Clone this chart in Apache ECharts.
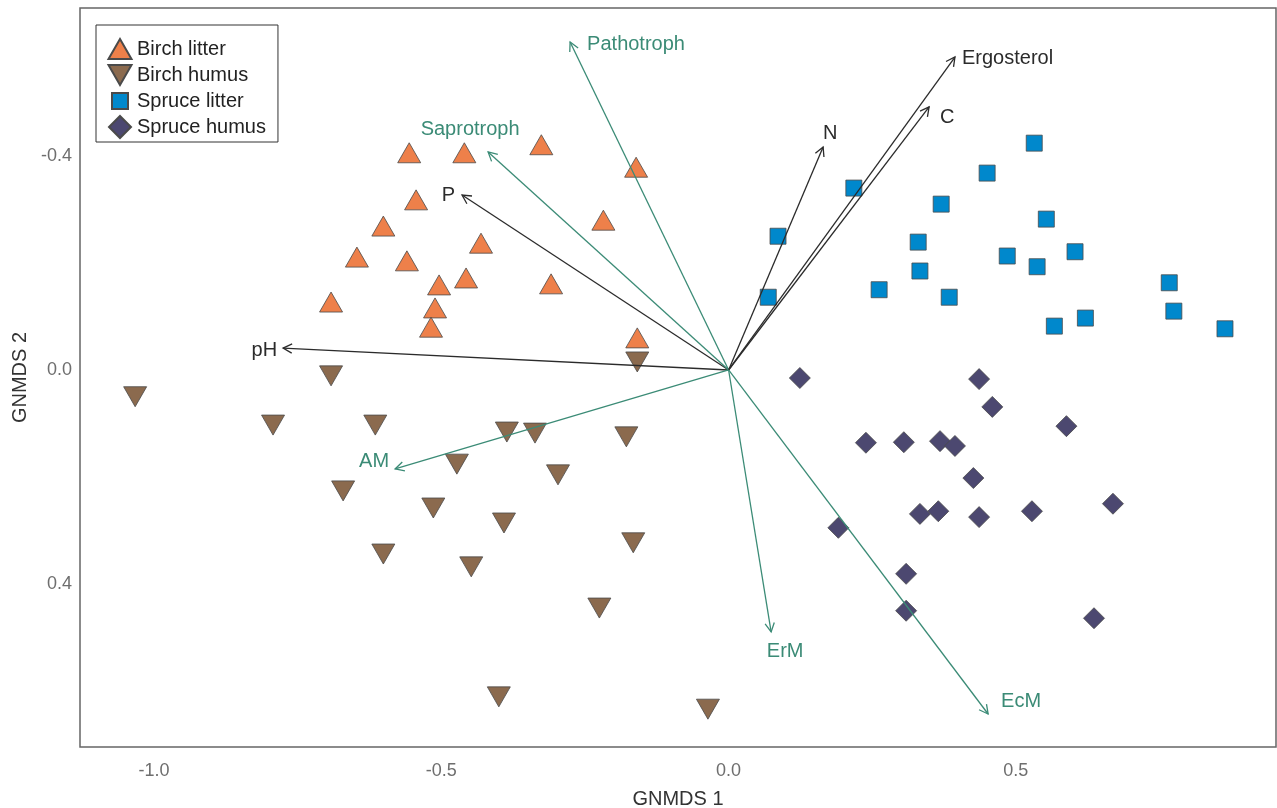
<!DOCTYPE html>
<html><head><meta charset="utf-8">
<script src="https://cdn.jsdelivr.net/npm/echarts@6/dist/echarts.min.js"></script>
<style>html,body{margin:0;padding:0;background:#fff}#c{width:1277px;height:808px}</style>
</head><body><div id="c"></div>
<script>
// ---------- data ----------
const birchLitterX = [-0.556,-0.460,-0.326,-0.161,-0.544,-0.218,-0.601,-0.431,-0.647,-0.560,-0.504,-0.457,-0.309,-0.692,-0.511,-0.518,-0.159];
const birchLitterY = [-0.406,-0.406,-0.421,-0.379,-0.318,-0.280,-0.269,-0.237,-0.211,-0.204,-0.159,-0.172,-0.161,-0.127,-0.116,-0.080,-0.060];

const birchHumusX = [-1.033,-0.692,-0.793,-0.615,-0.671,-0.514,-0.601,-0.473,-0.386,-0.337,-0.178,-0.297,-0.391,-0.166,-0.448,-0.225,-0.400,-0.036,-0.159];
const birchHumusY = [0.050,0.011,0.103,0.103,0.226,0.258,0.344,0.176,0.116,0.118,0.125,0.196,0.286,0.323,0.368,0.445,0.611,0.634,-0.015];

const spruceLitterX = [0.532,0.450,0.370,0.218,0.086,0.553,0.330,0.485,0.537,0.603,0.333,0.262,0.069,0.384,0.767,0.775,0.567,0.621,0.864];
const spruceLitterY = [-0.424,-0.368,-0.310,-0.340,-0.250,-0.282,-0.239,-0.213,-0.193,-0.221,-0.185,-0.150,-0.136,-0.136,-0.163,-0.110,-0.082,-0.097,-0.077];

const spruceHumusX = [0.124,0.436,0.459,0.588,0.239,0.305,0.368,0.394,0.426,0.669,0.333,0.365,0.436,0.528,0.191,0.309,0.309,0.636];
const spruceHumusY = [0.015,0.017,0.069,0.105,0.136,0.135,0.133,0.142,0.202,0.250,0.269,0.264,0.275,0.264,0.295,0.381,0.450,0.464];

const vectorNames = ['pH','P','Saprotroph','Pathotroph','N','C','Ergosterol','AM','ErM','EcM'];
const vectorX = [-0.7755,-0.464,-0.4186,-0.2759,0.1645,0.349,0.394,-0.5805,0.074,0.4517];
const vectorY = [-0.041,-0.327,-0.4075,-0.613,-0.4168,-0.4916,-0.585,0.185,0.4897,0.643];
const vectorGroup = ['env','env','fungal','fungal','env','env','env','fungal','fungal','fungal'];

const xTickValues = [-1.0,-0.5,0.0,0.5];
const yTickValues = [-0.4,0.0,0.4];

// ---------- styles ----------
const FONT = '"Liberation Sans", Arial, Helvetica, sans-serif';
const groupColor = {env:'#2b2b2b', fungal:'#3b8b76'};
const labelPlace = {
  pH:{align:'right',dx:-6,dy:2}, P:{align:'right',dx:-7,dy:0},
  Saprotroph:{align:'center',dx:-18,dy:-22}, Pathotroph:{align:'left',dx:17,dy:2},
  N:{align:'center',dx:7,dy:-14}, C:{align:'center',dx:18,dy:11},
  Ergosterol:{align:'left',dx:7,dy:1}, AM:{align:'right',dx:-6,dy:-7},
  ErM:{align:'center',dx:14,dy:20}, EcM:{align:'center',dx:33,dy:-13}
};
const zip = (xs, ys) => xs.map((x,i)=>[x, ys[i]]);
const markerBorder = {borderColor:'#4a4a4a', borderWidth:0.8};

const series = [
  {name:'Birch litter', type:'scatter', symbol:'triangle', symbolSize:[23,20],
   itemStyle:Object.assign({color:'#ee804a', opacity:1}, markerBorder), data:zip(birchLitterX,birchLitterY), z:2},
  {name:'Birch humus', type:'scatter', symbol:'path://M0,0 L23,0 L11.5,20 Z', symbolSize:[23,20],
   itemStyle:Object.assign({color:'#8b6a4e', opacity:1}, markerBorder), data:zip(birchHumusX,birchHumusY), z:2},
  {name:'Spruce litter', type:'scatter', symbol:'rect', symbolSize:[16,16],
   itemStyle:Object.assign({color:'#0088cc', opacity:1}, markerBorder), data:zip(spruceLitterX,spruceLitterY), z:2},
  {name:'Spruce humus', type:'scatter', symbol:'diamond', symbolSize:[21,21],
   itemStyle:Object.assign({color:'#4c4870', opacity:1}, markerBorder), data:zip(spruceHumusX,spruceHumusY), z:2},
  {name:'vectors', type:'custom', z:5, silent:true,
   data: vectorNames.map((n,i)=>[vectorX[i], vectorY[i], i]),
   renderItem: function(params, api){
     const i = api.value(2);
     const name = vectorNames[i];
     const col = groupColor[vectorGroup[i]];
     const o = api.coord([0,0]);
     const t = api.coord([api.value(0), api.value(1)]);
     const ang = Math.atan2(t[1]-o[1], t[0]-o[0]);
     const L = 10, a = Math.PI/6.5;
     const p1 = [t[0]-L*Math.cos(ang-a), t[1]-L*Math.sin(ang-a)];
     const p2 = [t[0]-L*Math.cos(ang+a), t[1]-L*Math.sin(ang+a)];
     const lp = labelPlace[name];
     return {type:'group', children:[
       {type:'line', shape:{x1:o[0],y1:o[1],x2:t[0],y2:t[1]}, style:{stroke:col, lineWidth:1.3}},
       {type:'polyline', shape:{points:[p1,t,p2]}, style:{stroke:col, lineWidth:1.3, fill:null}},
       {type:'text', x:t[0]+lp.dx, y:t[1]+lp.dy, style:{text:name, fill:col, font:'20px '+FONT, align:lp.align, verticalAlign:'middle'}}
     ]};
   }}
];

const chart = echarts.init(document.getElementById('c'), null, {renderer:'canvas'});
chart.setOption({
  animation:false,
  backgroundColor:'#ffffff',
  grid:{left:80, right:1, top:8, bottom:61, show:true, borderColor:'#666', borderWidth:1.5, backgroundColor:'transparent',
        containLabel:false, outerBoundsMode:'none'},
  xAxis:{type:'value', min:-1.129, max:0.9528, name:'GNMDS 1', nameLocation:'middle', nameGap:42,
    nameTextStyle:{fontSize:20, color:'#333', fontFamily:FONT},
    axisLine:{show:false}, axisTick:{show:false}, splitLine:{show:false},
    axisLabel:{customValues:xTickValues, formatter:v=>v.toFixed(1), fontSize:18, color:'#6e6e6e', fontFamily:FONT, margin:15}},
  yAxis:{type:'value', inverse:true, min:-0.6766, max:0.7047, name:'GNMDS 2', nameLocation:'middle', nameGap:50,
    nameTextStyle:{fontSize:20, color:'#333', fontFamily:FONT},
    axisLine:{show:false}, axisTick:{show:false}, splitLine:{show:false},
    axisLabel:{customValues:yTickValues, formatter:v=>v.toFixed(1), fontSize:18, color:'#6e6e6e', fontFamily:FONT, margin:8}},
  legend:{orient:'vertical', left:96, top:25, padding:[12,12,3,11], borderColor:'#333', borderWidth:1,
    itemWidth:24, itemHeight:22, itemGap:2, selectedMode:false,
    textStyle:{fontSize:20, color:'#222', fontFamily:FONT},
    data:[
      {name:'Birch litter', icon:'path://M0,0 M24,22 M0.5,21 L12,1 L23.5,21 Z'},
      {name:'Birch humus', icon:'path://M0,0 M24,22 M0.5,1 L23.5,1 L12,21 Z'},
      {name:'Spruce litter', icon:'path://M0,0 M24,22 M4,3 L20,3 L20,19 L4,19 Z'},
      {name:'Spruce humus', icon:'path://M0,0 M24,22 M12,0 L23,11 L12,22 L1,11 Z'}
    ]},
  series:series
});
</script></body></html>
